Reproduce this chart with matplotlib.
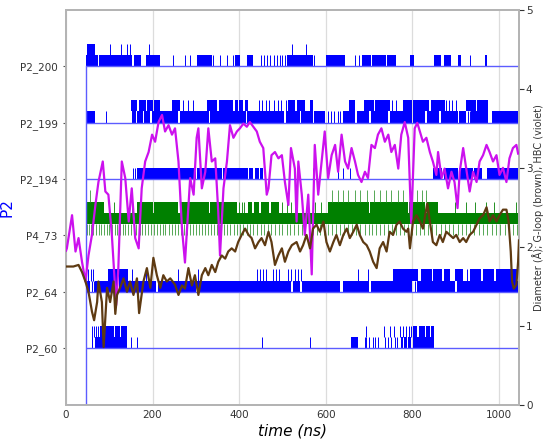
import matplotlib.pyplot as plt

# ---------------- data (time in ns) ----------------
t_on = 46
t_max = 1047

categories = ['P2_60', 'P2_64', 'P4_73', 'P2_194', 'P2_199', 'P2_200']
levels = [1, 2, 3, 4, 5, 6]
step = 0.2

# blue contact traces: spans (start, end) on first step (lo) and second step (hi)
p2_200_lo = [(46, 75), (77, 110), (112, 152), (158, 173), (184, 218), (303, 318), (320, 337),
             (391, 402), (418, 432), (510, 571), (602, 645), (684, 705), (708, 740), (743, 762),
             (795, 804), (850, 867), (873, 889), (905, 914), (968, 972)]
p2_200_lo_ticks = [247, 275, 287, 340, 356, 372, 386, 450, 458, 465, 472, 480, 487, 494, 500,
                   506, 573, 668, 678, 933]
p2_200_hi = [(49, 68)]
p2_200_hi_ticks = [102, 127, 141, 148, 191, 522, 555]

p2_199_lo = [(46, 67), (152, 162), (165, 178), (181, 195), (198, 260), (263, 330), (333, 415),
             (418, 505), (508, 540), (543, 570), (573, 598), (640, 668), (672, 700), (704, 745),
             (750, 800), (803, 830), (834, 862), (866, 905), (908, 925), (937, 975), (984, 1047)]
p2_199_lo_ticks = [93, 605, 612, 620, 628, 634, 929, 933]
p2_199_hi = [(151, 165), (168, 185), (188, 200), (203, 218), (245, 264), (325, 350), (353, 386),
             (391, 398), (401, 410), (413, 421), (513, 530), (533, 552), (563, 571), (655, 667),
             (688, 712), (715, 748), (778, 800), (803, 840), (843, 875), (924, 948), (951, 975)]
p2_199_hi_ticks = [271, 282, 294, 445, 452, 462, 470, 480, 490, 498, 508, 753, 762, 878, 885,
                   893, 902]

p2_194_lo = [(163, 300), (303, 360), (363, 420), (424, 432), (436, 445), (449, 455), (848, 870),
             (873, 905), (908, 940), (944, 962), (973, 1047)]
p2_194_lo_ticks = [156, 160, 571, 587, 628, 640, 656]
p2_194_hi = []
p2_194_hi_ticks = []

p2_64_lo = [(46, 56), (68, 120), (123, 208), (213, 300), (303, 520), (524, 540), (546, 633),
            (640, 700), (705, 800), (812, 900), (903, 1047)]
p2_64_lo_ticks = [60, 64, 806]
p2_64_hi = [(98, 120), (122, 144), (756, 814), (821, 845), (848, 870), (873, 887), (898, 918),
            (933, 960), (963, 990), (993, 1042)]
p2_64_hi_ticks = [47, 52, 58, 63, 153, 185, 259, 305, 442, 448, 455, 462, 479, 486, 493, 514,
                  521, 530, 537, 543, 674, 697, 926]

p2_60_lo = [(60, 63), (66, 141), (658, 674), (774, 778), (781, 788), (791, 797), (801, 851)]
p2_60_lo_ticks = [151, 164, 454, 563, 690, 694, 700, 709, 714, 721, 737, 744, 752, 760, 766]
p2_60_hi = [(79, 110), (113, 125), (128, 141), (801, 812), (815, 830), (833, 841), (844, 851)]
p2_60_hi_ticks = [60, 64, 70, 75, 694, 736, 748, 759, 771, 778, 785, 792, 797]

# green P4_73 trace: four steps (a = first ... d = fourth)
p4_73_a_ticks = [48, 53, 58, 63, 70, 76, 81, 88, 95, 99, 106, 113, 118, 124, 131, 137, 144, 150,
                 157, 162, 170, 176, 183, 190, 196, 204, 211, 217, 224, 230, 238, 245, 252, 258,
                 266, 273, 279, 286, 294, 300, 307, 315, 321, 328, 336, 343, 350, 357, 365, 372,
                 380, 388, 395, 403, 410, 418, 426, 433, 441, 450, 458, 466, 475, 483, 492, 500,
                 510, 518, 527, 536, 545, 553, 562, 570, 580, 588, 597, 606, 615, 624, 633, 642,
                 652, 661, 670, 680, 690, 700, 708, 717, 726, 736, 745, 754, 763, 772, 781, 790,
                 800, 809, 818, 828, 837, 846, 856, 866, 875, 885, 895, 905, 915, 925, 934, 944,
                 954, 964, 974, 984, 994, 1004, 1014, 1024, 1034, 1043]
p4_73_b = [(46, 1047)]
p4_73_c = [(46, 87), (165, 200), (203, 260), (263, 330), (333, 396), (420, 430), (435, 445),
           (450, 470), (475, 493), (605, 700), (703, 790), (792, 830), (835, 860)]
p4_73_c_ticks = [100, 112, 125, 140, 152, 400, 406, 412, 500, 510, 520, 530, 545, 560, 575, 590,
                 900, 925, 945, 970, 990, 1040]
p4_73_d_ticks = [56, 615, 628, 640, 652, 668, 680, 695, 712, 725, 740, 752, 768, 780, 812, 822,
                 833]

# HBC (violet) and G-loop (brown), right axis
hbc_t = [0, 2, 14, 22, 29, 37, 45, 52, 60, 68, 75, 85, 91, 98, 106, 116, 121, 129, 137, 145,
         152, 160, 168, 175, 183, 191, 199, 206, 214, 222, 229, 237, 245, 252, 260, 268, 275,
         287, 295, 302, 306, 314, 322, 329, 337, 345, 352, 356, 364, 372, 379, 387, 395, 402,
         410, 418, 425, 433, 441, 448, 456, 464, 468, 475, 483, 491, 499, 506, 514, 520, 529,
         533, 537, 545, 552, 560, 568, 575, 583, 591, 598, 606, 614, 622, 629, 637, 645, 652,
         660, 668, 675, 683, 691, 698, 706, 714, 721, 729, 737, 745, 752, 760, 768, 775, 783,
         791, 798, 806, 812, 818, 825, 833, 841, 848, 856, 860, 868, 875, 883, 891, 898, 905,
         910, 918, 925, 933, 941, 949, 956, 964, 972, 979, 987, 995, 1002, 1010, 1018, 1025,
         1033, 1041, 1045]
hbc_v = [1.95, 1.98, 2.40, 1.94, 2.11, 1.81, 1.56, 1.89, 2.15, 2.53, 2.82, 3.08, 2.70, 2.66,
         2.15, 1.26, 1.73, 3.08, 2.87, 2.32, 2.74, 2.11, 1.98, 2.74, 3.08, 3.20, 3.42, 3.33,
         3.58, 3.67, 3.46, 3.54, 3.42, 3.50, 3.08, 2.24, 1.80, 2.87, 2.66, 3.38, 3.50, 2.74,
         2.95, 3.50, 3.08, 3.12, 2.44, 1.89, 2.74, 3.08, 3.54, 3.38, 3.46, 3.50, 3.56, 3.52,
         3.58, 3.52, 3.46, 3.33, 3.25, 2.66, 2.74, 3.16, 3.20, 3.12, 3.16, 2.82, 2.53, 3.25,
         2.99, 2.32, 3.08, 2.66, 2.15, 2.66, 1.65, 3.29, 2.66, 3.08, 3.46, 2.87, 3.16, 3.29,
         2.95, 3.42, 3.08, 2.99, 3.25, 3.08, 2.91, 2.82, 2.95, 2.87, 3.29, 3.25, 3.42, 3.50,
         3.33, 3.42, 3.20, 3.29, 2.99, 3.42, 3.58, 3.38, 2.30, 3.50, 3.57, 3.46, 3.33, 3.38,
         3.20, 3.08, 2.91, 3.20, 2.87, 2.99, 2.74, 2.95, 2.82, 2.49, 2.95, 3.25, 2.99, 2.70,
         2.95, 2.82, 3.08, 3.16, 3.29, 3.20, 3.08, 3.16, 2.91, 3.00, 2.82, 3.12, 3.25, 3.29,
         3.18]

gloop_t = [0, 2, 17, 29, 37, 45, 52, 60, 65, 72, 75, 83, 87, 95, 102, 110, 114, 118, 125, 133,
           141, 148, 156, 164, 169, 179, 187, 195, 202, 210, 218, 225, 233, 241, 252, 260, 268,
           275, 283, 291, 298, 306, 314, 322, 329, 337, 345, 352, 360, 368, 375, 383, 391, 398,
           406, 414, 422, 429, 437, 445, 452, 460, 468, 475, 483, 491, 499, 506, 514, 522, 533,
           541, 548, 556, 564, 571, 579, 587, 595, 602, 610, 618, 625, 633, 641, 649, 656, 664,
           672, 679, 687, 695, 702, 710, 718, 725, 733, 741, 748, 756, 764, 771, 779, 787, 791,
           795, 802, 810, 818, 825, 835, 841, 848, 856, 864, 871, 879, 887, 895, 902, 910, 918,
           925, 933, 941, 949, 956, 964, 972, 979, 987, 995, 1002, 1010, 1018, 1023, 1028, 1031,
           1035, 1041, 1045, 1047]
gloop_v = [1.75, 1.75, 1.75, 1.77, 1.68, 1.56, 1.43, 1.18, 1.07, 1.30, 1.56, 1.30, 0.73, 1.48,
           1.30, 1.56, 1.15, 1.39, 1.48, 1.60, 1.43, 1.56, 1.39, 1.60, 1.16, 1.56, 1.73, 1.48,
           1.86, 1.64, 1.48, 1.64, 1.56, 1.60, 1.52, 1.39, 1.51, 1.47, 1.73, 1.51, 1.64, 1.39,
           1.64, 1.73, 1.64, 1.77, 1.68, 1.81, 1.89, 1.85, 1.94, 1.98, 1.94, 2.06, 2.15, 2.23,
           2.15, 2.11, 1.98, 2.06, 2.11, 2.02, 2.19, 2.06, 1.77, 1.89, 1.98, 1.81, 1.94, 2.02,
           2.06, 1.94, 2.02, 2.15, 1.98, 2.23, 2.28, 2.19, 2.32, 2.06, 1.94, 2.06, 2.15, 2.02,
           2.15, 2.23, 2.11, 2.19, 2.28, 2.15, 2.06, 2.02, 1.94, 1.81, 1.73, 1.98, 2.06, 1.94,
           2.19, 2.15, 2.28, 2.32, 2.23, 2.19, 2.23, 1.98, 2.32, 2.40, 2.32, 2.23, 2.55, 2.32,
           2.06, 2.02, 2.15, 2.06, 2.19, 2.15, 2.11, 2.15, 2.06, 2.11, 2.06, 2.15, 2.19, 2.28,
           2.36, 2.40, 2.50, 2.32, 2.40, 2.32, 2.40, 2.47, 2.47, 2.32, 1.94, 1.56, 1.47, 1.52,
           1.81, 2.08]

# ---------------- plot ----------------
BLUE = '#0000ff'
BLUE_LINE = '#5c5cff'
GREEN = '#008000'
GRID = '#dcdcdc'
SPINE = '#b4b4b4'


def draw_step(ax, spans, ticks, base, color, tick_lw=0.7, tick_color=None):
    if spans:
        ax.broken_barh([(s, e - s) for s, e in spans], (base, step),
                       facecolors=color, edgecolor='none', zorder=2)
    if ticks:
        ax.vlines(ticks, base, base + step, color=tick_color or color, lw=tick_lw, zorder=2)


fig = plt.figure(figsize=(5.44, 4.41), dpi=100)
ax = fig.add_axes([0.1213, 0.0823, 0.8327, 0.8953])

blue_traces = [
    (1, p2_60_lo, p2_60_lo_ticks, p2_60_hi, p2_60_hi_ticks),
    (2, p2_64_lo, p2_64_lo_ticks, p2_64_hi, p2_64_hi_ticks),
    (4, p2_194_lo, p2_194_lo_ticks, p2_194_hi, p2_194_hi_ticks),
    (5, p2_199_lo, p2_199_lo_ticks, p2_199_hi, p2_199_hi_ticks),
    (6, p2_200_lo, p2_200_lo_ticks, p2_200_hi, p2_200_hi_ticks),
]
for lev, lo, lo_t, hi, hi_t in blue_traces:
    draw_step(ax, lo, lo_t, lev, BLUE)
    draw_step(ax, hi, hi_t, lev + step, BLUE)
    ax.hlines(lev, t_on, t_max, color=BLUE_LINE, lw=1.0, zorder=3)

# green P4_73
g = levels[categories.index('P4_73')]
draw_step(ax, [], p4_73_a_ticks, g, GREEN, tick_lw=0.6, tick_color='#3a9a3a')
draw_step(ax, p4_73_b, [], g + step, GREEN)
draw_step(ax, p4_73_c, p4_73_c_ticks, g + 2 * step, GREEN, tick_lw=0.6)
draw_step(ax, [], p4_73_d_ticks, g + 3 * step, GREEN, tick_lw=0.6, tick_color='#3a9a3a')

# trace start: everything sits at 0 until t_on, then jumps
ax.plot([0, t_on, t_on], [0, 0, levels[-1]], color=BLUE_LINE, lw=1.0, zorder=3)

ax.set_xlim(0, t_max)
ax.set_ylim(0, 7)
ax.set_yticks(levels)
ax.set_yticklabels(categories)
ax.set_xticks([0, 200, 400, 600, 800, 1000])
ax.grid(axis='x', color=GRID, lw=0.9, zorder=0)
ax.set_axisbelow(True)
ax.tick_params(axis='y', labelsize=7.5, labelcolor='#333333', length=2.5, width=0.8,
               color='#555555')
ax.tick_params(axis='x', labelsize=7.5, labelcolor='#333333', length=0)
ax.set_ylabel('P2', color='blue', fontsize=11)
ax.set_xlabel('time (ns)', fontsize=11, fontstyle='italic', labelpad=3)

ax2 = ax.twinx()
ax2.plot(hbc_t, hbc_v, color='#cc11ee', lw=1.6, zorder=4)
ax2.plot(gloop_t, gloop_v, color='#5e3a12', lw=1.6, zorder=5)
ax2.set_ylim(0, 5)
ax2.set_yticks([0, 1, 2, 3, 4, 5])
ax2.tick_params(axis='y', labelsize=7.5, labelcolor='#333333', length=3.5, width=0.8,
                color='#333333', pad=1.5)
ax2.set_ylabel('Diameter (Å); G-loop (brown), HBC (violet)', fontsize=7, color='#333333')
ax2.yaxis.set_label_coords(1.029, 0.5)

for a in (ax, ax2):
    for side in ('left', 'right', 'top', 'bottom'):
        a.spines[side].set_color(SPINE)
        a.spines[side].set_linewidth(1.3)

fig.savefig('out.png', dpi=100)
